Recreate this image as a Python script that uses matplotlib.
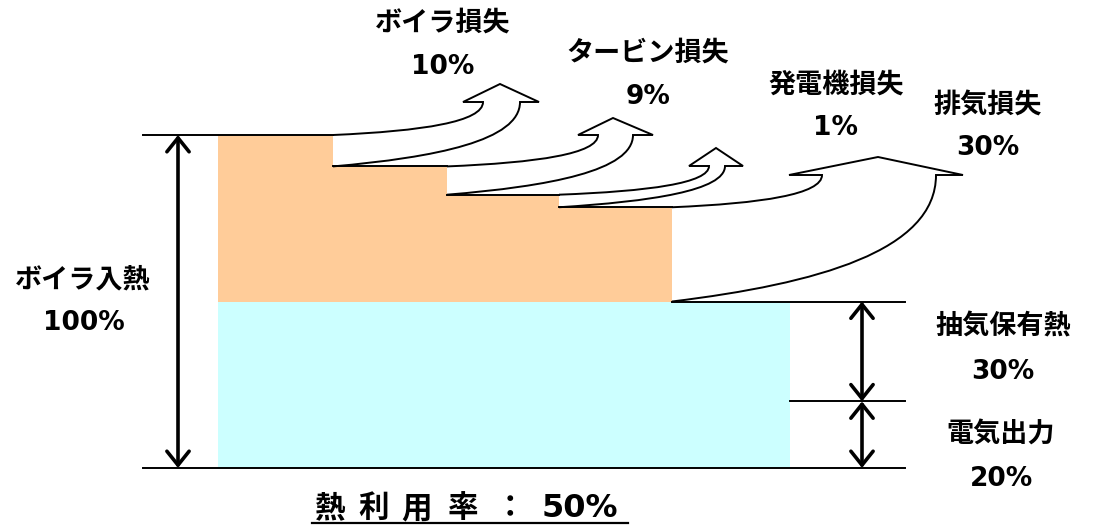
import matplotlib
matplotlib.use("Agg")
import matplotlib.pyplot as plt
from matplotlib.path import Path
from matplotlib.patches import PathPatch

plt.rcParams['font.family'] = ['Noto Sans CJK JP', 'DejaVu Sans']

# data (percent of boiler heat input)
loss_names = ["ボイラ損失", "タービン損失", "発電機損失", "排気損失"]
loss_values = [10, 9, 1, 30]
out_names = ["抽気保有熱", "電気出力"]
out_values = [30, 20]
input_name = "ボイラ入熱"
input_value = 100
efficiency = out_values[0] + out_values[1]
title_chars = ["熱", "利", "用", "率", "："]

# layout (pixels)
Y0 = 468          # pixel y of 0 %
PX = 3.33         # pixels per percent
def lv(p):
    return Y0 - p * PX

col_x = [218, 333, 447, 559, 672]
blue_right = 790

# visual heights of the losses: tiny ones made visible, total kept
vis = [max(v, 4) for v in loss_values]
k = sum(loss_values) / sum(vis)
vis = [v * k for v in vis]
levels = [input_value]
for v in vis:
    levels.append(levels[-1] - v)

fig = plt.figure(figsize=(10.93, 5.31), dpi=100)
ax = fig.add_axes([0, 0, 1, 1])
ax.set_xlim(0, 1093)
ax.set_ylim(531, 0)
ax.axis('off')

# columns
ax.bar(col_x[:4], [lv(levels[i]) - lv(levels[-1]) for i in range(4)],
       width=[col_x[i + 1] - col_x[i] for i in range(4)],
       bottom=lv(levels[-1]), align='edge', color='#FFCC99', zorder=1)
ax.bar(col_x[0], lv(input_value - sum(loss_values)) - lv(0), width=blue_right - col_x[0],
       bottom=lv(0), align='edge', color='#CCFFFF', zorder=1)

# lines
lk = dict(color='black', lw=1.4, zorder=4)
ax.plot([143, col_x[1]], [lv(levels[0])] * 2, **lk)
for i in range(1, 4):
    ax.plot([col_x[i], col_x[i + 1]], [lv(levels[i])] * 2, **lk)
ax.plot([143, 905], [lv(0)] * 2, **lk)
ax.plot([col_x[4], 905], [lv(out_values[0] + out_values[1])] * 2, **lk)
ax.plot([blue_right, 905], [lv(out_values[1])] * 2, **lk)

# loss arrows: shaft left, shaft right, head base y, head left, head right, tip
heads = [(483, 520, 102, 463, 539, (500, 84)),
         (598, 633, 135, 578, 653, (613, 118)),
         (709, 725, 166, 689, 743, (716, 148)),
         (822, 936, 175, 789, 963, (878, 157))]
for i, (sl, sr, hb, hl, hr, tip) in enumerate(heads):
    x0 = col_x[i + 1]
    yt = lv(levels[i])
    yb = lv(levels[i + 1])
    verts = [(x0, yt),
             (x0 + 0.6 * (sl - x0), yt - 0.12 * (yt - hb)),
             (sl, hb + 0.6 * (yt - hb)),
             (sl, hb),
             (hl, hb), tip, (hr, hb), (sr, hb),
             (sr, hb + 0.6 * (yb - hb)),
             (x0 + 0.55 * (sr - x0), yb - 0.14 * (yb - hb)),
             (x0, yb)]
    codes = [Path.MOVETO, Path.CURVE4, Path.CURVE4, Path.CURVE4,
             Path.LINETO, Path.LINETO, Path.LINETO, Path.LINETO,
             Path.CURVE4, Path.CURVE4, Path.CURVE4]
    ax.add_patch(PathPatch(Path(verts + [(x0, yt)], codes + [Path.CLOSEPOLY]),
                           facecolor='white', edgecolor='none', zorder=2))
    ax.add_patch(PathPatch(Path(verts, codes), fill=False,
                           edgecolor='black', lw=1.4, zorder=3))

# double arrows
ak = dict(arrowstyle='<->,head_length=0.5,head_width=0.4', lw=2.6, color='black',
          mutation_scale=20, shrinkA=0, shrinkB=0)
ax.annotate('', xy=(178, lv(input_value)), xytext=(178, lv(0)), arrowprops=ak)
ax.annotate('', xy=(862, lv(out_values[0] + out_values[1])), xytext=(862, lv(out_values[1])),
            arrowprops=ak)
ax.annotate('', xy=(862, lv(out_values[1])), xytext=(862, lv(0)), arrowprops=ak)

# labels
tk = dict(fontsize=19.5, fontweight='bold', ha='center', va='center')
nk = dict(fontsize=19, fontweight='bold', ha='center', va='center', family='DejaVu Sans')
loss_pos = [(443, 23, 67), (648, 53, 97), (836, 85, 128), (988, 106, 148)]
for name, val, (x, y1, y2) in zip(loss_names, loss_values, loss_pos):
    ax.text(x, y1, name, **tk)
    ax.text(x, y2, f"{val}%", **nk)
ax.text(83, 279, input_name, **tk)
ax.text(84, 323, f"{input_value}%", **nk)
out_pos = [(1003, 327, 372), (1001, 434, 479)]
for name, val, (x, y1, y2) in zip(out_names, out_values, out_pos):
    ax.text(x, y1, name, **tk)
    ax.text(x, y2, f"{val}%", **nk)

# bottom line: 熱利用率 : 50%
for ch, x in zip(title_chars, [329, 374, 417, 463, 510]):
    ax.text(x, 517, ch, fontsize=22, fontweight='bold', ha='center', va='baseline')
ax.text(580, 517, f"{efficiency}%", fontsize=23, fontweight='bold', ha='center',
        va='baseline', family='DejaVu Sans')
ax.plot([312, 628], [522.5, 522.5], color='black', lw=1.6)

fig.savefig("out.png", dpi=100)
